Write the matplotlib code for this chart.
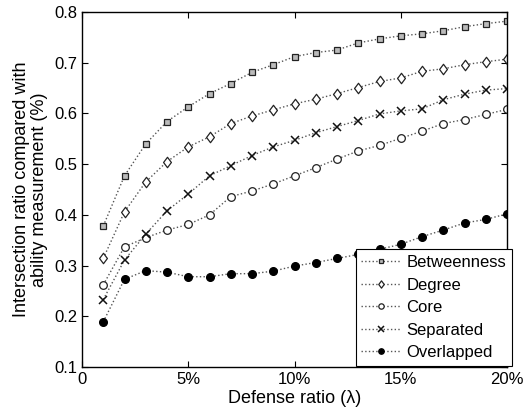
import matplotlib
matplotlib.use("Agg")
import matplotlib.pyplot as plt
from matplotlib.path import Path

plt.rcParams['font.family'] = ['Liberation Sans', 'DejaVu Sans']

ratio = list(range(1, 21))
betweenness = [0.378, 0.477, 0.540, 0.584, 0.613, 0.639, 0.659, 0.681, 0.696, 0.712,
               0.720, 0.725, 0.739, 0.747, 0.753, 0.757, 0.763, 0.771, 0.777, 0.782]
degree = [0.314, 0.406, 0.465, 0.505, 0.534, 0.554, 0.580, 0.595, 0.607, 0.619,
          0.628, 0.639, 0.651, 0.663, 0.670, 0.683, 0.688, 0.696, 0.702, 0.707]
core = [0.262, 0.337, 0.355, 0.370, 0.381, 0.400, 0.436, 0.447, 0.461, 0.477,
        0.493, 0.510, 0.526, 0.537, 0.551, 0.565, 0.580, 0.588, 0.598, 0.608]
separated = [0.233, 0.311, 0.362, 0.408, 0.441, 0.477, 0.497, 0.517, 0.534, 0.547,
             0.562, 0.574, 0.586, 0.599, 0.605, 0.609, 0.627, 0.638, 0.646, 0.649]
overlapped = [0.189, 0.273, 0.290, 0.287, 0.278, 0.278, 0.284, 0.284, 0.289, 0.299,
              0.306, 0.314, 0.322, 0.332, 0.342, 0.357, 0.370, 0.384, 0.391, 0.402]

# diamond a bit narrower than tall, like the matlab one
diamond = Path([(0, 1), (0.75, 0), (0, -1), (-0.75, 0), (0, 1)],
               [Path.MOVETO, Path.LINETO, Path.LINETO, Path.LINETO, Path.CLOSEPOLY])

fig = plt.figure(figsize=(5.32, 4.13), dpi=100)
ax = fig.add_axes([82/532, 1-367/413, 425/532, 355/413])

lc = '#555555'
ax.plot(ratio, betweenness, ls=':', color=lc, lw=1, marker='s', ms=4,
        mfc='#bbbbbb', mec='#222222', mew=0.9, label='Betweenness')
ax.plot(ratio, degree, ls=':', color=lc, lw=1, marker=diamond, ms=7.5,
        mfc='white', mec='#222222', mew=0.9, label='Degree')
ax.plot(ratio, core, ls=':', color=lc, lw=1, marker='o', ms=5.5,
        mfc='white', mec='#222222', mew=0.9, label='Core')
ax.plot(ratio, separated, ls=':', color=lc, lw=1, marker='x', ms=6,
        mec='#111111', mew=1.1, label='Separated')
ax.plot(ratio, overlapped, ls=':', color=lc, lw=1, marker='o', ms=5.5,
        mfc='black', mec='black', label='Overlapped')

ax.set_xlim(0, 20)
ax.set_ylim(0.1, 0.8)
ax.set_xticks([0, 5, 10, 15, 20])
ax.set_xticklabels(['0', '5%', '10%', '15%', '20%'])
ax.set_yticks([0.1, 0.2, 0.3, 0.4, 0.5, 0.6, 0.7, 0.8])
ax.tick_params(direction='in', top=True, right=True, labelsize=12, length=4)
for s in ax.spines.values():
    s.set_linewidth(1)

ax.set_xlabel('Defense ratio (λ)', fontsize=13, labelpad=2)
ax.set_ylabel('Intersection ratio compared with\nability measurement (%)', fontsize=13,
              linespacing=1.1)

leg = ax.legend(loc='lower right', bbox_to_anchor=(512/532, 1-366/413),
                bbox_transform=fig.transFigure, borderaxespad=0, fontsize=12,
                markerscale=0.7, handlelength=2.4, fancybox=False, framealpha=1,
                edgecolor='black', borderpad=0.35, labelspacing=0.45, handletextpad=0.3)
leg.get_frame().set_linewidth(0.8)

fig.savefig('out.png', dpi=100)
